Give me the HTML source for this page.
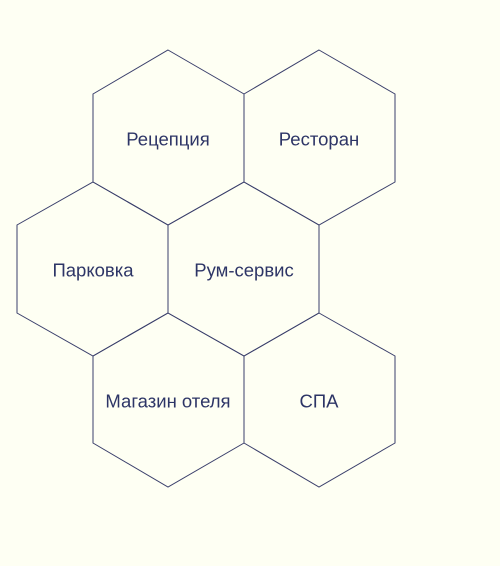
<!DOCTYPE html>
<html><head><meta charset="utf-8"><style>
html,body{margin:0;padding:0;background:#fefff3;}
svg{display:block}
text{font-family:"Liberation Sans","DejaVu Sans",sans-serif;font-size:18.5px;fill:#2d3566;text-anchor:middle;dominant-baseline:central}
polygon{fill:none;stroke:#3a3f6b;stroke-width:1}
</style></head><body>
<svg width="500" height="566" viewBox="0 0 500 566">
<rect width="500" height="566" fill="#fefff3"/>
<g id="h">
<polygon points="168,50 244,94 244,182 168,225 93,182 93,94"/>
<polygon points="319,50 395,94 395,182 319,225 244,182 244,94"/>
<polygon points="93,182 168,225 168,313 93,356 17,313 17,225"/>
<polygon points="244,182 319,225 319,313 244,356 168,313 168,225"/>
<polygon points="168,313 244,356 244,443 168,487 93,443 93,356"/>
<polygon points="319,313 395,356 395,443 319,487 244,443 244,356"/>
</g>
<text x="168" y="139">Рецепция</text>
<text x="319" y="139">Ресторан</text>
<text x="93" y="270">Парковка</text>
<text x="244" y="270">Рум-сервис</text>
<text x="168" y="401">Магазин отеля</text>
<text x="319" y="401">СПА</text>
</svg>
</body></html>
